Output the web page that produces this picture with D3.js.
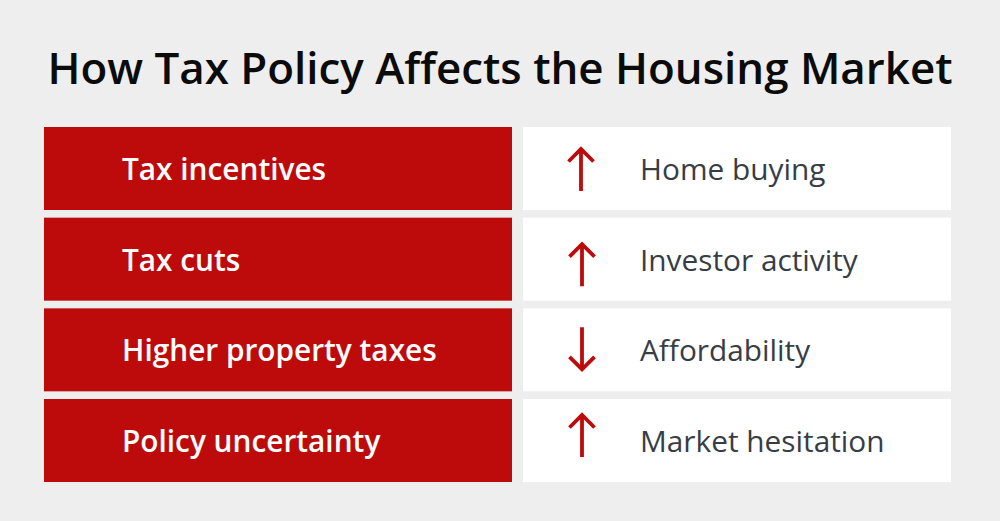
<!DOCTYPE html>
<html><head><meta charset="utf-8">
<script src="https://cdn.jsdelivr.net/npm/d3@7"></script>
<style>html,body{margin:0;padding:0;background:#eeeeee}svg{display:block}</style>
</head><body><svg id="c" width="1000" height="521"></svg>
<script>
const titleText = "How Tax Policy Affects the Housing Market";
const causes = ["Tax incentives","Tax cuts","Higher property taxes","Policy uncertainty"];
const effects = ["Home buying","Investor activity","Affordability","Market hesitation"];
const directions = ["up","up","down","up"];

const svg = d3.select("#c");
const font = "'Open Sans'";
const y = d3.scaleBand().domain(causes).range([127,482]).paddingInner(0.0846).paddingOuter(0);
const arrowShift = [0,4.5,0,-6];
const arrowX = [581,582,582,582];
svg.append("rect").attr("width",1000).attr("height",521).attr("fill","#eeeeee");
svg.append("text").attr("x",500).attr("y",83.6).attr("text-anchor","middle")
  .attr("font-family",font).attr("font-weight",600).attr("font-size",43.9).attr("fill","#0b0b0b").text(titleText);
const rows = svg.selectAll("g.row").data(causes).join("g").attr("class","row")
  .attr("transform",d=>`translate(0,${y(d)})`);
const h = y.bandwidth();
rows.append("rect").attr("x",44).attr("width",468).attr("height",h).attr("fill","#bd0b0b");
rows.append("rect").attr("x",523).attr("width",428).attr("height",h).attr("fill","#ffffff");
rows.append("text").attr("x",122).attr("y",h/2+11.6).attr("font-family",font).attr("font-weight",600)
  .attr("font-size",29.8).attr("fill","#fff").text(d=>d);
rows.append("text").attr("x",640).attr("y",h/2+11.6).attr("font-family",font).attr("font-weight",400)
  .attr("font-size",29.8).attr("fill","#373d45").text((d,i)=>effects[i]);
rows.append("path").attr("fill","none").attr("stroke","#bd0b0b").attr("stroke-width",3.8)
  .attr("transform",(d,i)=>`translate(${arrowX[i]},${arrowShift[i]})`)
  .attr("d",(d,i)=>directions[i]==="up"
    ? "M0,64V22M-12.500,34.500L0,22L12.500,34.500"
    : "M0,19V61M-12.500,48.500L0,61L12.500,48.500");
</script></body></html>
